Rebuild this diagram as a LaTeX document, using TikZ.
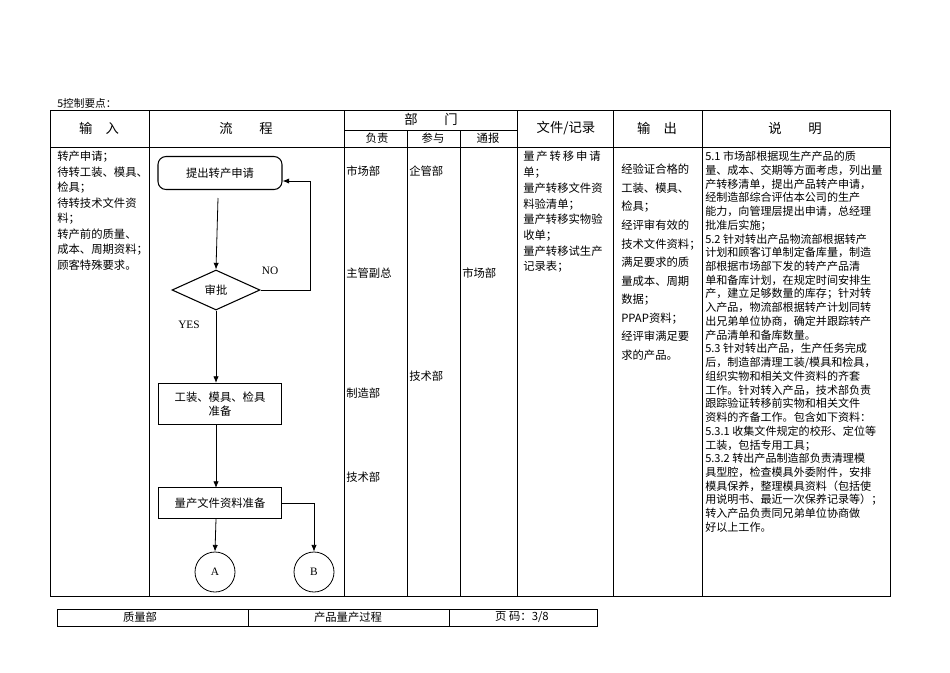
\documentclass[tikz,border=0pt]{standalone}
\usepackage{fontspec}
\setmainfont{Liberation Serif}
\newfontfamily\cjk{Noto Sans CJK SC}
\usetikzlibrary{shapes.geometric,arrows.meta}
\begin{document}
\begin{tikzpicture}[x=0.75pt,y=-0.75pt,
  ln/.style={line width=0.6pt},
  txt/.style={font=\cjk\fontsize{8.5}{11.6}\selectfont,inner sep=0pt,anchor=north west,align=left},
  hd/.style={font=\cjk\fontsize{10}{12}\selectfont,inner sep=0pt},
  fbox/.style={draw,line width=0.8pt,font=\cjk\fontsize{8.5}{10.5}\selectfont,align=center},
  arr/.style={line width=0.6pt,-{Latex[length=5pt,width=4pt]}}]
\useasboundingbox (0,0) rectangle (950,672);
% table
\draw[ln] (50,110) rectangle (890,596);
\draw[ln] (50,147) -- (890,147);
\foreach \x in {149,344,517,613,702} \draw[ln] (\x,110) -- (\x,596);
\draw[ln] (344,130) -- (517,130);
\foreach \x in {407,460} \draw[ln] (\x,130) -- (\x,596);
\node[anchor=west,inner sep=0pt,font=\cjk\fontsize{8}{10}\selectfont] (title) at (57,103) {5控制要点：};
\node[hd] (h1) at (99,128) {输\quad 入};
\node[hd] (h2) at (246,128) {流\qquad 程};
\node[hd] (h3) at (431,119) {部\qquad 门};
\node[hd,font=\cjk\fontsize{8.5}{10}\selectfont] (h4) at (377,138) {负责};
\node[hd,font=\cjk\fontsize{8.5}{10}\selectfont] (h5) at (433,138) {参与};
\node[hd,font=\cjk\fontsize{8.5}{10}\selectfont] (h6) at (488,138) {通报};
\node[hd] (h7) at (566,128) {文件/记录};
\node[hd] (h8) at (657,128) {输\quad 出};
\node[hd] (h9) at (795,128) {说\qquad 明};
% input
\node[txt] (inp) at (57,151) {转产申请；\\待转工装、模具、\\检具；\\待转技术文件资\\料；\\转产前的质量、\\成本、周期资料；\\顾客特殊要求。};
% flow
\node[fbox,rounded corners=6pt,minimum width=124pt*0.75,minimum height=33pt*0.75] (b1) at (220,173) {提出转产申请};
\node[draw,diamond,aspect=2.2,line width=0.8pt,minimum width=88*0.75pt,minimum height=40*0.75pt,inner sep=0pt,font=\cjk\fontsize{8.5}{10}\selectfont] (d) at (216,290) {审批};
\node[fbox,minimum width=123*0.75pt,minimum height=41*0.75pt] (b2) at (220,404) {工装、模具、检具\\准备};
\node[fbox,minimum width=123*0.75pt,minimum height=31*0.75pt] (b3) at (220,503) {量产文件资料准备};
\node[draw,circle,line width=0.6pt,minimum size=40*0.75pt,inner sep=0pt,font=\fontsize{8.5}{10}\selectfont] (A) at (215,572) {A};
\node[draw,circle,line width=0.6pt,minimum size=40*0.75pt,inner sep=0pt,font=\fontsize{8.5}{10}\selectfont] (B) at (314,572) {B};
\coordinate (c1) at (218,198);
\draw[arr] (c1) -- (d.north);
\draw[arr] (d.east) -- (310,290) -- (310,181) -- (b1.east |- 0,181);
\node[font=\fontsize{8.5}{10}\selectfont] (no) at (270,271) {NO};
\node[font=\fontsize{8.5}{10}\selectfont] (yes) at (189,325) {YES};
\draw[arr] (d.south) -- (216,383);
\draw[arr] (216,424) -- (216,488);
\draw[arr] (216,519) -- (A.north);
\draw[arr] (b3.east) -- (314,503) -- (B.north);
% departments
\node[txt] (m1) at (346,166) {市场部};
\node[txt] (m2) at (346,268) {主管副总};
\node[txt] (m3) at (346,388) {制造部};
\node[txt] (m4) at (346,472) {技术部};
\node[txt] (p1) at (409,166) {企管部};
\node[txt] (p2) at (409,371) {技术部};
\node[txt] (t1) at (462,268) {市场部};
% documents
\node[txt,font=\cjk\fontsize{8.5}{11.8}\selectfont] (docs) at (523,151) {量\,产\,转\,移\,申\,请\\单；\\量产转移文件资\\料验清单；\\量产转移实物验\\收单；\\量产转移试生产\\记录表；};
% output
\node[txt,font=\cjk\fontsize{8.5}{13.9}\selectfont] (out) at (621,164) {经验证合格的\\工装、模具、\\检具；\\经评审有效的\\技术文件资料；\\满足要求的质\\量成本、周期\\数据；\\PPAP资料；\\经评审满足要\\求的产品。};
% description
\node[txt,font=\cjk\fontsize{8.3}{10.3}\selectfont] (desc) at (705,151) {5.1 市场部根据现生产产品的质\\量、成本、交期等方面考虑，列出量\\产转移清单，提出产品转产申请，\\经制造部综合评估本公司的生产\\能力，向管理层提出申请，总经理\\批准后实施；\\5.2 针对转出产品物流部根据转产\\计划和顾客订单制定备库量，制造\\部根据市场部下发的转产产品清\\单和备库计划，在规定时间安排生\\产，建立足够数量的库存；针对转\\入产品，物流部根据转产计划同转\\出兄弟单位协商，确定并跟踪转产\\产品清单和备库数量。\\5.3 针对转出产品，生产任务完成\\后，制造部清理工装/模具和检具，\\组织实物和相关文件资料的齐套\\工作。针对转入产品，技术部负责\\跟踪验证转移前实物和相关文件\\资料的齐备工作。包含如下资料：\\5.3.1 收集文件规定的校形、定位等\\工装，包括专用工具；\\5.3.2 转出产品制造部负责清理模\\具型腔，检查模具外委附件，安排\\模具保养，整理模具资料（包括使\\用说明书、最近一次保养记录等）；\\转入产品负责同兄弟单位协商做\\好以上工作。};
% footer
\draw[ln] (57,609) rectangle (597,626);
\draw[ln] (248,609) -- (248,626);
\draw[ln] (449,609) -- (449,626);
\node[hd,font=\cjk\fontsize{8.5}{10}\selectfont] (f1) at (140,617.5) {质量部};
\node[hd,font=\cjk\fontsize{8.5}{10}\selectfont] (f2) at (348,617.5) {产品量产过程};
\node[hd,font=\cjk\fontsize{8.5}{10}\selectfont] (f3) at (522,617.5) {页\ 码：3/8};
\end{tikzpicture}
\end{document}
